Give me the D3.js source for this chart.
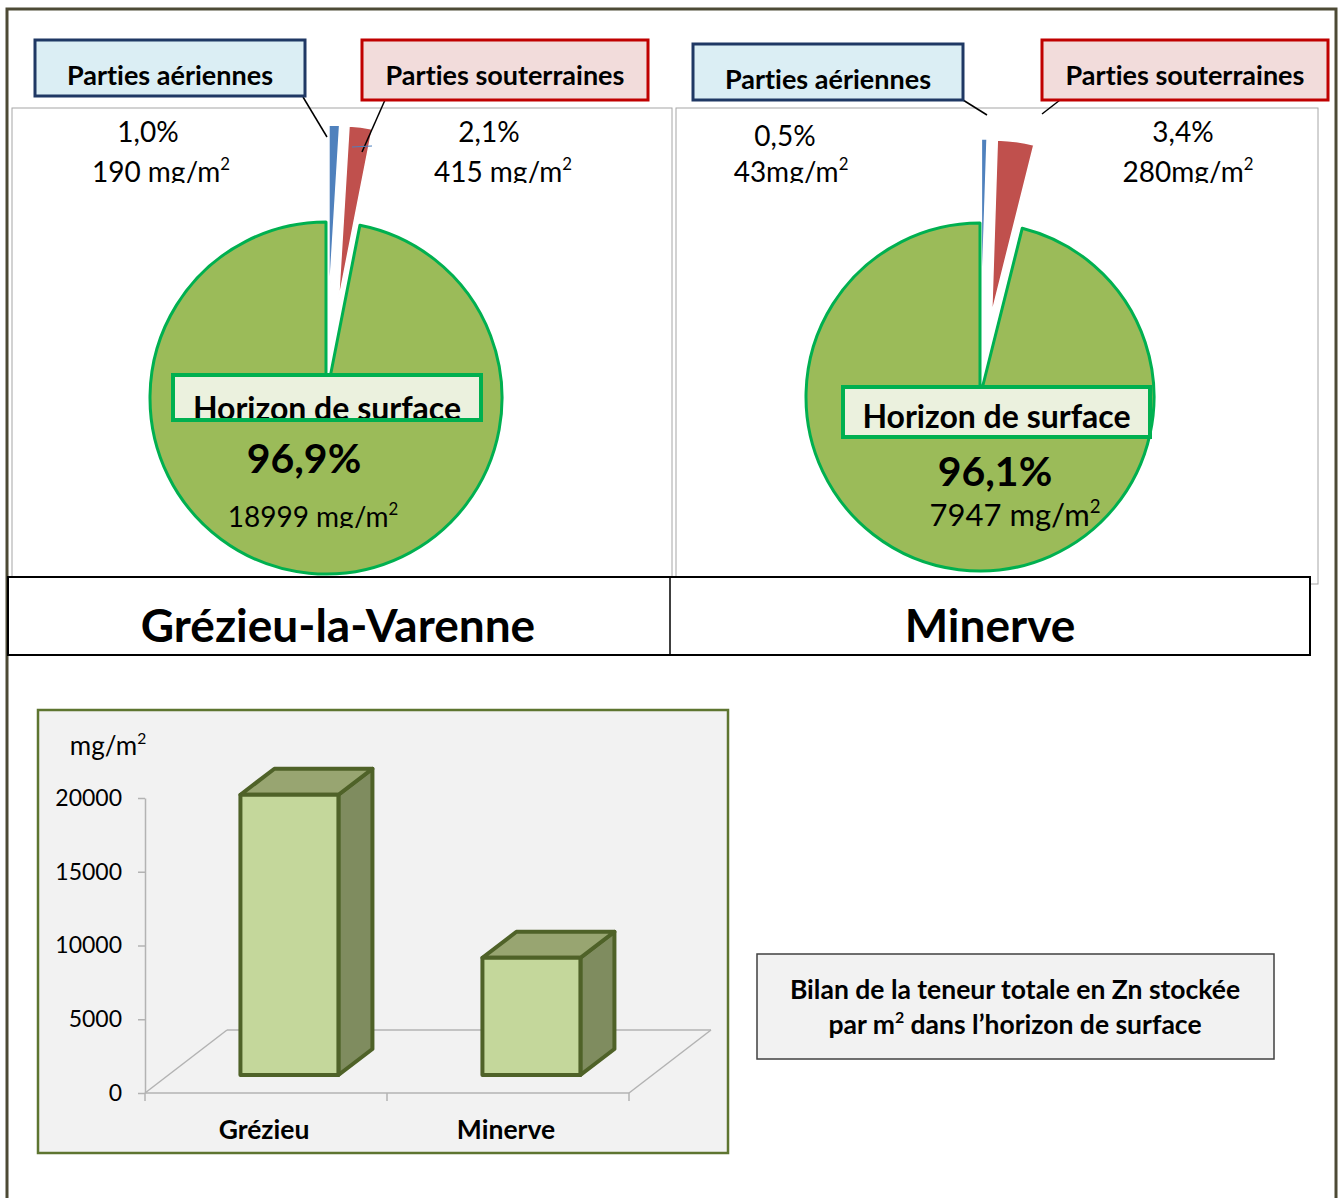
<!DOCTYPE html>
<html>
<head>
<meta charset="utf-8">
<script src="https://cdn.jsdelivr.net/npm/d3@7"></script>
<style>
body { margin: 0; background: #fff; }
text { font-family: Lato, "Open Sans", sans-serif; font-variant-ligatures: none; font-feature-settings: "liga" 0, "clig" 0; }
</style>
</head>
<body>
<svg id="chart"></svg>
<script>
// data
const sites = ["Grézieu-la-Varenne", "Minerve"];
const parts = ["Parties aériennes", "Parties souterraines", "Horizon de surface"];
const grezieuValues = [190, 415, 18999];
const minerveValues = [43, 280, 7947];
const grezieuPct = ["1,0%", "2,1%", "96,9%"];
const minervePct = ["0,5%", "3,4%", "96,1%"];
const grezieuLabels = ["190 mg/m", "415 mg/m", "18999 mg/m"];
const minerveLabels = ["43mg/m", "280mg/m", "7947 mg/m"];
const barCategories = ["Grézieu", "Minerve"];
const barValues = [18999, 7947];
const yTicks = [0, 5000, 10000, 15000, 20000];
const yUnit = "mg/m";
const noteLines = ["Bilan de la teneur totale en Zn stockée", "par m", " dans l’horizon de surface"];

const width = 1344, height = 1198;
const sliceColors = ["#4f81bd", "#c0504d", "#9bbb59"];
const boxFills = ["#dbeef4", "#f2dcdb"];
const boxStrokes = ["#1f3864", "#c00000"];

const svg = d3.select("#chart")
    .attr("width", width)
    .attr("height", height);

svg.append("rect").attr("width", width).attr("height", height).attr("fill", "#fff");

// outer frame
svg.append("rect")
    .attr("x", 7).attr("y", 9).attr("width", 1329).attr("height", 1200)
    .attr("fill", "none").attr("stroke", "#4d4a35").attr("stroke-width", 3);

// layout of the two pie panels
const pieLayout = [
    {values: grezieuValues, pct: grezieuPct, labels: grezieuLabels,
     cx: 326, cy: 398, r: 176, explode: 97, panel: [12, 108, 660, 470],
     boxes: [[35, 40, 270, 56], [362, 40, 286, 60]],
     leaders: [[303, 97, 327, 137], [385, 100, 362, 152]],
     pctPos: [[148, 142], [489, 142]], amtPos: [[161, 182], [503, 182]],
     horizon: [173, 375, 308, 45], horizonBase: 420,
     mainPct: [304, 473], mainAmt: [313, 527], amtSize: 28, clipMain: true},
    {values: minerveValues, pct: minervePct, labels: minerveLabels,
     cx: 980, cy: 397, r: 174, explode: 84, panel: [676, 108, 642, 476],
     boxes: [[693, 44, 270, 56], [1042, 40, 286, 60]],
     leaders: [[963, 100, 987, 115], [1060, 100, 1042, 114]],
     pctPos: [[785, 146], [1183, 142]], amtPos: [[791, 182], [1188, 182]],
     horizon: [843, 387, 307, 50], horizonBase: 428,
     mainPct: [995, 486], mainAmt: [1015, 526], amtSize: 31, clipMain: false}
];

function supText(sel, base, fontSize) {
    sel.append("tspan").text(base);
    sel.append("tspan").text("2")
        .attr("font-size", fontSize * 0.6)
        .attr("dy", -fontSize * 0.42);
}

const pie = d3.pie().sort(null).value(d => d);

pieLayout.forEach((p, k) => {
    // panel
    svg.append("rect")
        .attr("x", p.panel[0]).attr("y", p.panel[1])
        .attr("width", p.panel[2]).attr("height", p.panel[3])
        .attr("fill", "#fff").attr("stroke", "#a6a6a6").attr("stroke-width", 1);

    // top labels clipped like the original text frames
    const clipId = "clipTop" + k;
    svg.append("clipPath").attr("id", clipId)
        .append("rect").attr("x", p.panel[0]).attr("y", p.panel[1])
        .attr("width", p.panel[2]).attr("height", 183 - p.panel[1]);
    const tops = svg.append("g").attr("clip-path", "url(#" + clipId + ")");
    [0, 1].forEach(i => {
        tops.append("text")
            .attr("x", p.pctPos[i][0]).attr("y", p.pctPos[i][1])
            .attr("text-anchor", "middle").attr("font-size", 28)
            .text(p.pct[i]);
        tops.append("text")
            .attr("x", p.amtPos[i][0]).attr("y", p.amtPos[i][1])
            .attr("text-anchor", "middle").attr("font-size", 28)
            .call(supText, p.labels[i], 28);
    });

    // slices
    const arc = d3.arc().innerRadius(0).outerRadius(p.r);
    const arcs = pie(p.values);
    const g = svg.append("g").attr("transform", "translate(" + p.cx + "," + p.cy + ")");
    g.selectAll("path").data(arcs).enter().append("path")
        .attr("d", arc)
        .attr("transform", (d, i) => {
            if (i === 2) return null;
            const mid = (d.startAngle + d.endAngle) / 2;
            return "translate(" + (p.explode * Math.sin(mid)) + "," + (-p.explode * Math.cos(mid)) + ")";
        })
        .attr("fill", (d, i) => sliceColors[i])
        .attr("stroke", (d, i) => i === 2 ? "#00b050" : "#fff")
        .attr("stroke-width", (d, i) => i === 2 ? 3 : 1.5)
        .attr("stroke-linejoin", "round");

    // callout boxes
    [0, 1].forEach(i => {
        const b = p.boxes[i];
        svg.append("line")
            .attr("x1", p.leaders[i][0]).attr("y1", p.leaders[i][1])
            .attr("x2", p.leaders[i][2]).attr("y2", p.leaders[i][3])
            .attr("stroke", "#000").attr("stroke-width", 1.5);
        svg.append("rect")
            .attr("x", b[0]).attr("y", b[1]).attr("width", b[2]).attr("height", b[3])
            .attr("fill", boxFills[i]).attr("stroke", boxStrokes[i]).attr("stroke-width", 3);
        svg.append("text")
            .attr("x", b[0] + b[2] / 2).attr("y", b[1] + 45)
            .attr("text-anchor", "middle").attr("font-size", 27).attr("font-weight", "bold")
            .text(parts[i]);
    });
    if (k === 0) {
        svg.append("line").attr("x1", 352).attr("y1", 147).attr("x2", 372).attr("y2", 146)
            .attr("stroke", "#4f81bd").attr("stroke-width", 1.2);
    }

    // horizon de surface box
    const h = p.horizon;
    svg.append("rect")
        .attr("x", h[0]).attr("y", h[1]).attr("width", h[2]).attr("height", h[3])
        .attr("fill", "#ebf1de");
    svg.append("text")
        .attr("x", h[0] + h[2] / 2).attr("y", p.horizonBase)
        .attr("text-anchor", "middle").attr("font-size", 32).attr("font-weight", "bold")
        .text(parts[2]);
    svg.append("rect")
        .attr("x", h[0]).attr("y", h[1]).attr("width", h[2]).attr("height", h[3])
        .attr("fill", "none").attr("stroke", "#00b050").attr("stroke-width", 4);

    svg.append("text")
        .attr("x", p.mainPct[0]).attr("y", p.mainPct[1])
        .attr("text-anchor", "middle").attr("font-size", 41).attr("font-weight", "bold")
        .text(p.pct[2]);

    const amt = svg.append("text")
        .attr("x", p.mainAmt[0]).attr("y", p.mainAmt[1])
        .attr("text-anchor", "middle").attr("font-size", p.amtSize)
        .call(supText, p.labels[2], p.amtSize);
    if (p.clipMain) {
        svg.append("clipPath").attr("id", "clipMain" + k)
            .append("rect").attr("x", p.panel[0]).attr("y", 490).attr("width", p.panel[2]).attr("height", 38);
        amt.attr("clip-path", "url(#clipMain" + k + ")");
    }
});

// site titles
svg.append("rect")
    .attr("x", 8).attr("y", 577).attr("width", 1302).attr("height", 78)
    .attr("fill", "#fff").attr("stroke", "#000").attr("stroke-width", 2);
svg.append("line").attr("x1", 670).attr("y1", 577).attr("x2", 670).attr("y2", 655)
    .attr("stroke", "#000").attr("stroke-width", 1.5);
[338, 990].forEach((cx, i) => {
    svg.append("text")
        .attr("x", cx).attr("y", 642)
        .attr("text-anchor", "middle").attr("font-size", 46).attr("font-weight", "bold")
        .text(sites[i]);
});

// bar chart
svg.append("rect")
    .attr("x", 38).attr("y", 710).attr("width", 690).attr("height", 443)
    .attr("fill", "#f2f2f2").attr("stroke", "#5e7530").attr("stroke-width", 2.5);

const y = d3.scaleLinear().domain([0, 20000]).range([1093, 798]);
const x = d3.scaleBand().domain(barCategories).range([145, 629]);
const floorDx = 82, floorDy = -63;
const lift = 18;
const shiftX = floorDx * lift / -floorDy;
const barW = 98, depthX = 34, depthY = -26;

const x0 = x.range()[0], x1 = x.range()[1], y0 = y(0);
const floorColor = "#b3b3b3";
// floor
svg.append("line").attr("x1", x0 + floorDx).attr("y1", y0 + floorDy)
    .attr("x2", x1 + floorDx).attr("y2", y0 + floorDy)
    .attr("stroke", floorColor).attr("stroke-width", 1.5);
svg.append("line").attr("x1", x0).attr("y1", y0).attr("x2", x0 + floorDx).attr("y2", y0 + floorDy)
    .attr("stroke", floorColor).attr("stroke-width", 1.5);
svg.append("line").attr("x1", x1).attr("y1", y0).attr("x2", x1 + floorDx).attr("y2", y0 + floorDy)
    .attr("stroke", floorColor).attr("stroke-width", 1.5);
svg.append("line").attr("x1", x0).attr("y1", y0).attr("x2", x1).attr("y2", y0)
    .attr("stroke", floorColor).attr("stroke-width", 1.5);

// x ticks
barCategories.map(c => x(c)).concat([x1]).forEach(tx => {
    svg.append("line").attr("x1", tx).attr("y1", y0).attr("x2", tx).attr("y2", y0 + 8)
        .attr("stroke", floorColor).attr("stroke-width", 1.5);
});

// y axis
const yAxis = d3.axisLeft(y).tickValues(yTicks).tickFormat(d3.format("d"))
    .tickSize(7).tickSizeOuter(0).tickPadding(16);
const axisG = svg.append("g").attr("transform", "translate(" + x0 + ",0)").call(yAxis);
axisG.select(".domain").attr("stroke", floorColor).attr("stroke-width", 1.5);
axisG.selectAll(".tick line").attr("stroke", floorColor).attr("stroke-width", 1.5);
axisG.selectAll(".tick text").attr("font-size", 23).attr("fill", "#000")
    .attr("font-family", "Lato, sans-serif");

svg.append("text").attr("x", 108).attr("y", 755).attr("text-anchor", "middle")
    .attr("font-size", 26).call(supText, yUnit, 26);

// 3d bars
barCategories.forEach((c, i) => {
    const bx0 = x(c) + x.bandwidth() / 2 + shiftX - barW / 2;
    const bx1 = bx0 + barW;
    const top = y(barValues[i]) - lift;
    const bot = y(0) - lift;
    const bar = svg.append("g")
        .attr("stroke", "#4f6228").attr("stroke-width", 4).attr("stroke-linejoin", "round");
    bar.append("polygon")
        .attr("points", [[bx1, top], [bx1 + depthX, top + depthY], [bx1 + depthX, bot + depthY], [bx1, bot]].join(" "))
        .attr("fill", "#7f8c5f");
    bar.append("polygon")
        .attr("points", [[bx0, top], [bx0 + depthX, top + depthY], [bx1 + depthX, top + depthY], [bx1, top]].join(" "))
        .attr("fill", "#98a571");
    bar.append("rect")
        .attr("x", bx0).attr("y", top).attr("width", barW).attr("height", bot - top)
        .attr("fill", "#c4d79b");
    svg.append("text")
        .attr("x", x(c) + x.bandwidth() / 2 - 2).attr("y", 1139)
        .attr("text-anchor", "middle").attr("font-size", 26.5).attr("font-weight", "bold")
        .text(c);
});

// note box
svg.append("rect")
    .attr("x", 757).attr("y", 954).attr("width", 517).attr("height", 105)
    .attr("fill", "#f2f2f2").attr("stroke", "#404040").attr("stroke-width", 1.5);
svg.append("text").attr("x", 1015).attr("y", 999).attr("text-anchor", "middle")
    .attr("font-size", 26.5).attr("font-weight", "bold").text(noteLines[0]);
const note2 = svg.append("text").attr("x", 1015).attr("y", 1034).attr("text-anchor", "middle")
    .attr("font-size", 26.5).attr("font-weight", "bold");
note2.call(supText, noteLines[1], 26.5);
note2.append("tspan").attr("dy", 26.5 * 0.42).text(noteLines[2]);
</script>
</body>
</html>
